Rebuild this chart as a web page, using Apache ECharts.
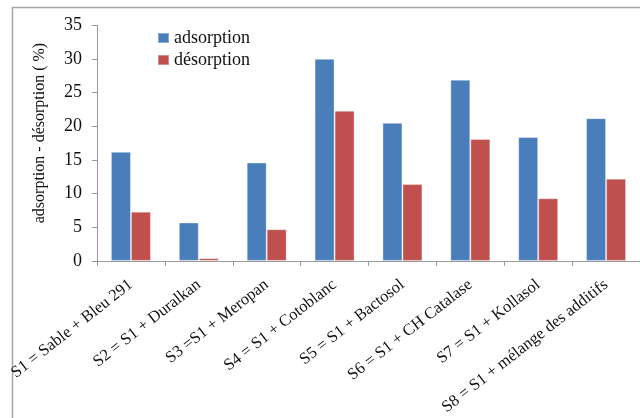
<!DOCTYPE html>
<html>
<head>
<meta charset="utf-8">
<script src="https://cdn.jsdelivr.net/npm/echarts@6/dist/echarts.min.js"></script>
<style>html,body{margin:0;padding:0;background:#fff;}#c{width:640px;height:418px;}</style>
</head>
<body>
<div id="c"></div>
<script>
const categories = ["S1 = Sable + Bleu 291", "S2 = S1 + Duralkan", "S3 =S1 + Meropan", "S4 = S1 + Cotoblanc", "S5 = S1 + Bactosol", "S6 = S1 + CH Catalase", "S7 = S1 + Kollasol", "S8 = S1 + mélange des additifs"];
const adsorption = [16.2, 5.7, 14.6, 30.0, 20.5, 26.9, 18.4, 21.2];
const desorption = [7.3, 0.4, 4.7, 22.3, 11.4, 18.1, 9.3, 12.2];
const yTicks = [0, 5, 10, 15, 20, 25, 30, 35];

const font = 'Liberation Serif';
const chart = echarts.init(document.getElementById('c'), null, {renderer: 'canvas'});
chart.setOption({
  animation: false,
  backgroundColor: '#fff',
  graphic: [{
    type: 'rect', left: 10, top: 5, z: -1,
    shape: {width: 700, height: 500},
    style: {fill: 'none', stroke: '#a6a6a6', lineWidth: 1.5}
  }],
  grid: {left: 97, top: 25.2, width: 553.5, height: 236.5, containLabel: false},
  legend: {
    orient: 'vertical', left: 152, top: 24, itemWidth: 11, itemHeight: 10, itemGap: 4,
    icon: 'rect',
    textStyle: {fontFamily: font, fontSize: 18, color: '#111'},
    data: ['adsorption', 'désorption']
  },
  xAxis: {
    type: 'category', data: categories,
    axisLine: {lineStyle: {color: '#999', width: 1}},
    axisTick: {show: true, alignWithLabel: false, length: 5, lineStyle: {color: '#999'}},
    axisLabel: {rotate: 38, interval: 0, margin: 22, fontFamily: font, fontSize: 16.5, color: '#111'}
  },
  yAxis: {
    type: 'value', min: yTicks[0], max: yTicks[yTicks.length - 1], interval: 5,
    name: 'adsorption - désorption ( %)', nameLocation: 'middle', nameGap: 49, nameRotate: 90,
    nameTextStyle: {fontFamily: font, fontSize: 16, color: '#111', padding: [0, 0, 0, 20]},
    splitLine: {show: false},
    axisLine: {show: true, lineStyle: {color: '#999', width: 1}},
    axisTick: {show: true, length: 5, lineStyle: {color: '#999'}},
    axisLabel: {margin: 15, fontFamily: font, fontSize: 18, color: '#111'}
  },
  series: [
    {name: 'adsorption', type: 'bar', data: adsorption, barWidth: 20, barGap: '0%',
     itemStyle: {color: '#4a7ebb', borderColor: 'rgba(255,255,255,0.35)', borderWidth: 1}},
    {name: 'désorption', type: 'bar', data: desorption, barWidth: 20,
     itemStyle: {color: '#c0504d', borderColor: 'rgba(255,255,255,0.35)', borderWidth: 1}}
  ]
});
</script>
</body>
</html>
